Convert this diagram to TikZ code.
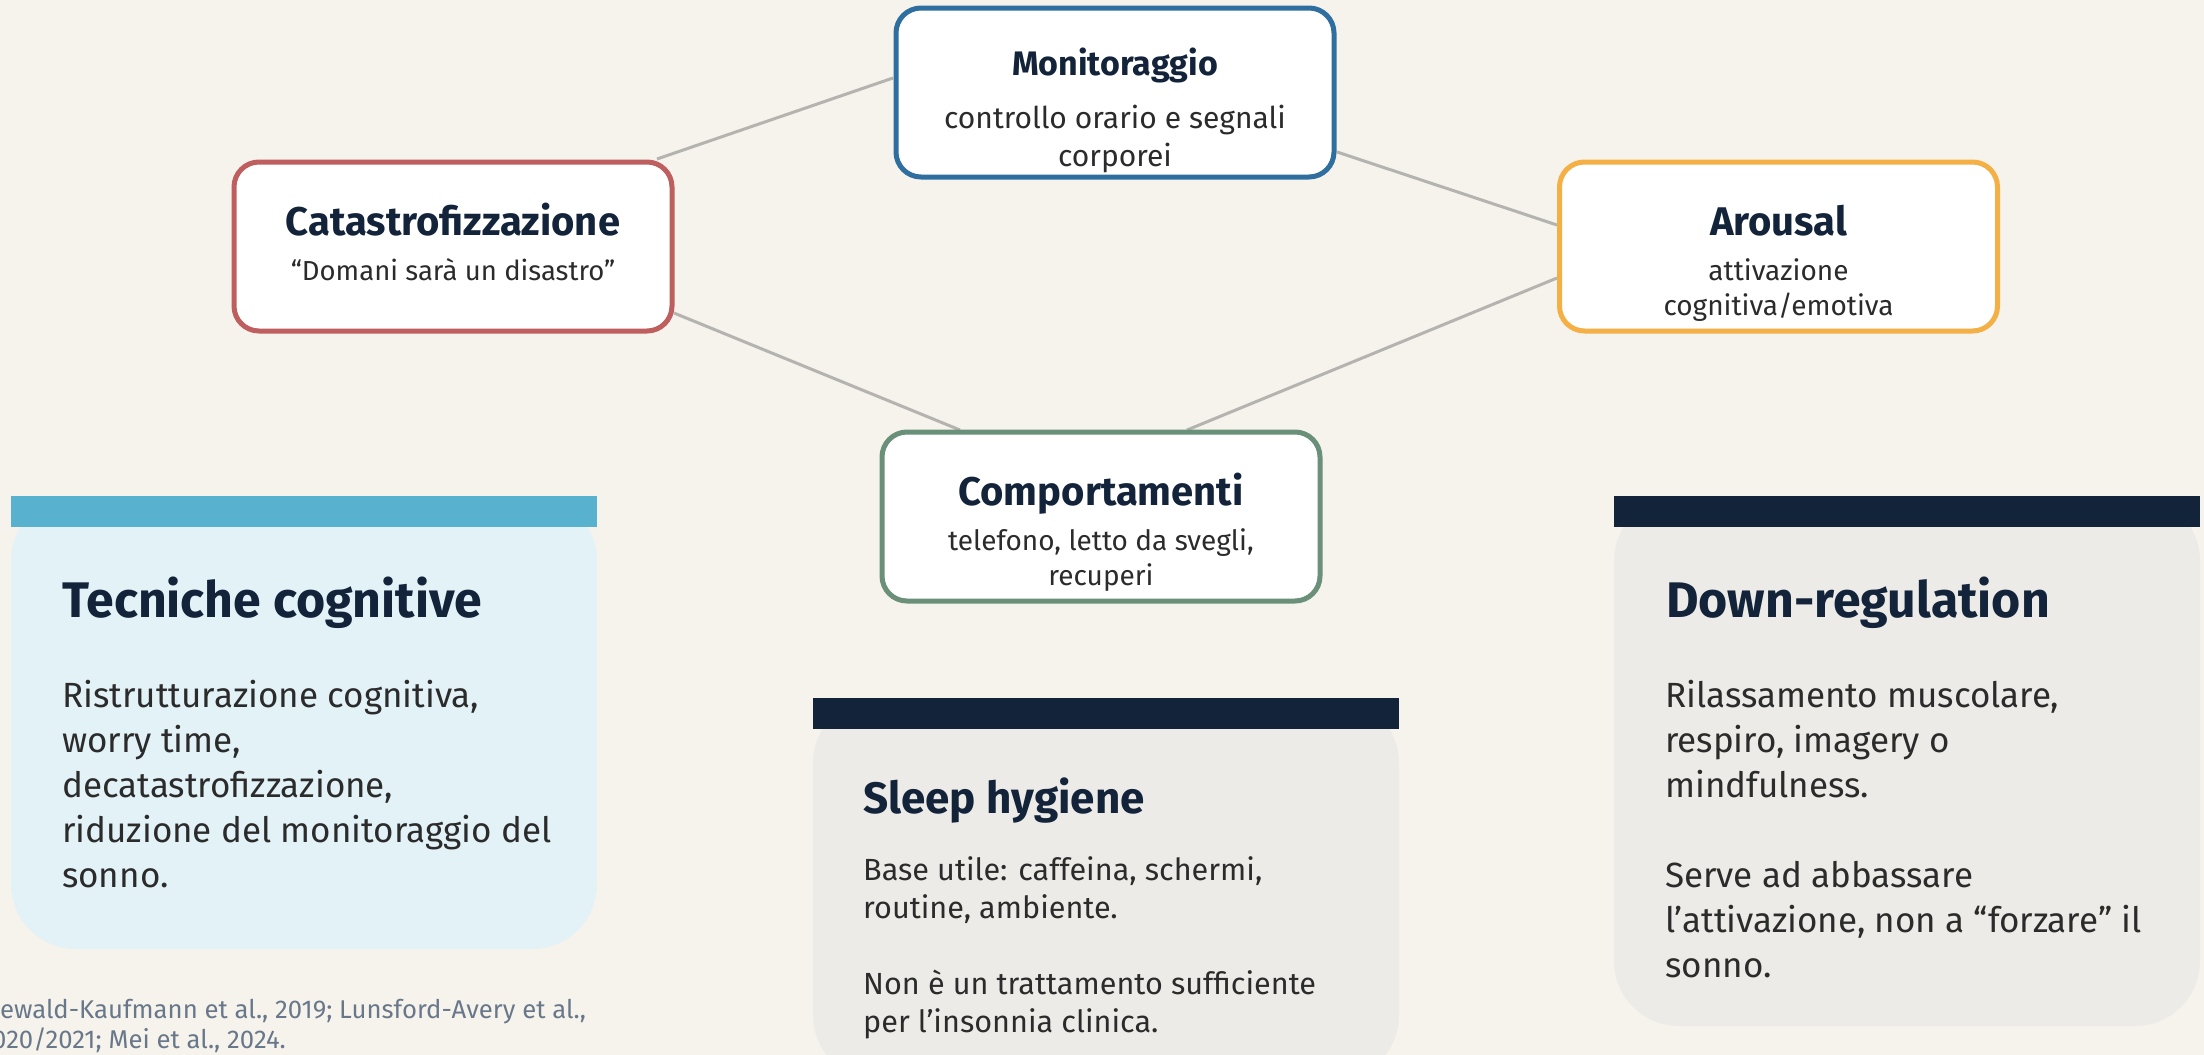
\documentclass[tikz,border=0pt]{standalone}
\usepackage{fontspec}
\setmainfont{Fira Sans}
\usetikzlibrary{calc}
\definecolor{bgc}{HTML}{F6F3EC}
\definecolor{catred}{HTML}{BE5E5E}
\definecolor{monblue}{HTML}{2F6F9F}
\definecolor{aroorange}{HTML}{F4AF45}
\definecolor{compgreen}{HTML}{6A9079}
\definecolor{navy}{HTML}{12233A}
\definecolor{txt}{HTML}{2B2B2B}
\definecolor{linkc}{HTML}{B5B3AF}
\definecolor{bluebar}{HTML}{59B1D0}
\definecolor{bluefill}{HTML}{E3F2F7}
\definecolor{grayfill}{HTML}{EDEBE7}
\definecolor{citec}{HTML}{68788A}
\newcommand\cenline[1]{\hbox to 0pt{\hss#1\hss}}
\pgfdeclarelayer{bglayer}
\pgfdeclarelayer{linklayer}
\pgfsetlayers{bglayer,linklayer,main}
\begin{document}
\begin{tikzpicture}[x=1pt,y=-1pt,
  topbox/.style={rectangle, rounded corners=25pt, line width=5pt, fill=white,
    minimum width=438pt, minimum height=169pt, inner sep=0pt},
  ttl/.style={anchor=base, inner sep=0pt, text=navy, font=\fontsize{40}{48}\selectfont\bfseries},
  sub/.style={anchor=base, inner sep=0pt, text=txt, font=\fontsize{28}{35}\selectfont},
  cardbody/.style={rectangle, rounded corners=65pt, inner sep=0pt, minimum width=586pt},
  cardbar/.style={rectangle, inner sep=0pt, minimum width=586pt, minimum height=31pt, anchor=north west},
  chead/.style={anchor=base west, inner sep=0pt, text=navy, font=\fontsize{50}{58}\selectfont\bfseries},
  ctext/.style={anchor=base west, inner sep=0pt, text=txt, font=\fontsize{35}{45}\selectfont},
  cite/.style={anchor=base west, inner sep=0pt, text=citec, font=\fontsize{25.7}{30}\selectfont},
  link/.style={draw=linkc, line width=3pt}
]
\begin{pgfonlayer}{bglayer}
\fill[bgc] (0,0) rectangle (2204,1055);
\end{pgfonlayer}
\useasboundingbox (0,0) rectangle (2204,1055);
\clip (0,0) rectangle (2204,1055);

% top nodes
\node[topbox, draw=catred] (cat) at (453,246.5) {};
\node[topbox, draw=monblue] (mon) at (1115,92.5) {};
\node[topbox, draw=aroorange] (aro) at (1778.5,246.5) {};
\node[topbox, draw=compgreen] (comp) at (1101,516.5) {};

\node[ttl] (cat-t) at (453,235) {Catastrofizzazione};
\node[sub, font=\fontsize{27.5}{35}\selectfont] (cat-s) at (453,280) {\vtop{\cenline{“Domani sarà un disastro”}}};
\node[ttl, font=\fontsize{34}{40}\selectfont\bfseries] (mon-t) at (1115,75) {Monitoraggio};
\node[sub, font=\fontsize{30}{38}\selectfont] (mon-s) at (1115,128) {\vtop{\cenline{controllo orario e segnali}\cenline{corporei}}};
\node[ttl] (aro-t) at (1778.5,235) {Arousal};
\node[sub] (aro-s) at (1778.5,280) {\vtop{\cenline{attivazione}\cenline{cognitiva/emotiva}}};
\node[ttl] (comp-t) at (1101,505) {Comportamenti};
\node[sub] (comp-s) at (1101,550) {\vtop{\cenline{telefono, letto da svegli,}\cenline{recuperi}}};

% connectors
\begin{pgfonlayer}{linklayer}
\draw[link] ($(cat.center)+(204,-87.5)$) -- ($(mon.center)+(-222,-14.5)$);
\draw[link] ($(mon.center)+(222,59.5)$) -- ($(aro.center)+(-221.5,-21.5)$);
\draw[link] ($(cat.center)+(221,66.5)$) -- ($(comp.center)+(-141,-86.5)$);
\draw[link] ($(aro.center)+(-221.5,31.5)$) -- ($(comp.center)+(86,-86.5)$);
\end{pgfonlayer}

% card 1
\node[cardbody, fill=bluefill, minimum height=453pt] (c1) at (304,722.5) {};
\node[cardbar, fill=bluebar] (c1bar) at (c1.north west) {};
\node[chead] (c1h) at (62,617) {Tecniche cognitive};
\node[ctext] (c1t) at (62,707) {\vtop{\hbox{Ristrutturazione cognitiva,}\hbox{worry time,}\hbox{decatastrofizzazione,}\hbox{riduzione del monitoraggio del}\hbox{sonno.}}};

% card 2
\node[cardbody, fill=grayfill, minimum height=382pt] (c2) at (1106,889) {};
\node[cardbar, fill=navy] (c2bar) at (c2.north west) {};
\node[chead, font=\fontsize{44}{52}\selectfont\bfseries] (c2h) at (863,813) {Sleep hygiene};
\node[ctext, font=\fontsize{30.6}{38}\selectfont] (c2t) at (863,880) {\vtop{\hbox{Base utile: caffeina, schermi,}\hbox{routine, ambiente.}\hbox{}\hbox{Non è un trattamento sufficiente}\hbox{per l’insonnia clinica.}}};

% card 3
\node[cardbody, fill=grayfill, minimum height=530pt] (c3) at (1907,761) {};
\node[cardbar, fill=navy] (c3bar) at (c3.north west) {};
\node[chead] (c3h) at (1666,617) {Down-regulation};
\node[ctext] (c3t) at (1665,707) {\vtop{\hbox{Rilassamento muscolare,}\hbox{respiro, imagery o}\hbox{mindfulness.}\hbox{}\hbox{Serve ad abbassare}\hbox{l’attivazione, non a “forzare” il}\hbox{sonno.}}};

% citation (cut at the left edge, as in the reference)
\node[cite] (cite1) at (0,1018) {ewald-Kaufmann et al., 2019; Lunsford-Avery et al.,};
\node[cite] (cite2) at (-8,1048) {020/2021; Mei et al., 2024.};
\end{tikzpicture}
\end{document}
